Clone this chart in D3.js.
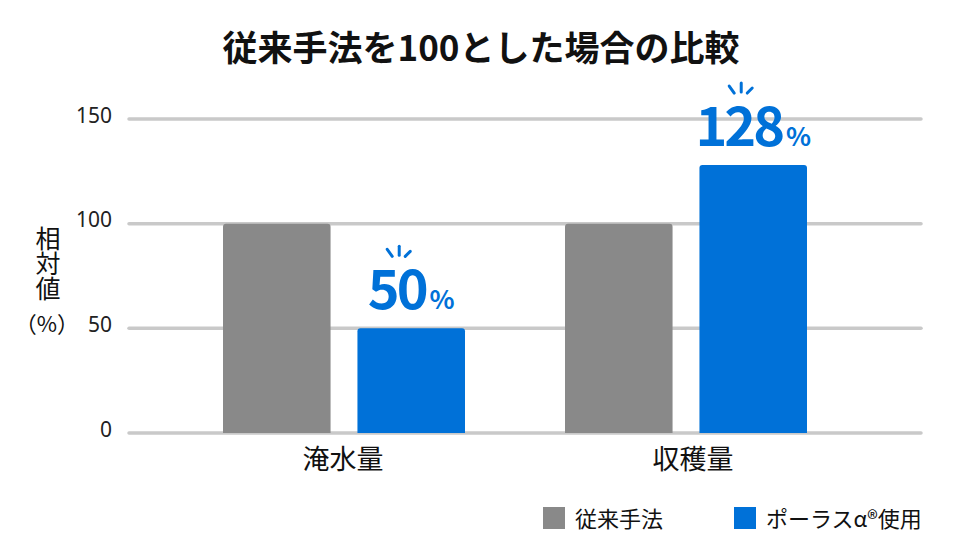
<!DOCTYPE html>
<html>
<head>
<meta charset="utf-8">
<script src="https://cdn.jsdelivr.net/npm/d3@7"></script>
<style>
  body { margin: 0; background: #fff; }
  svg { font-family: "Noto Sans CJK JP", "Noto Sans", sans-serif; }
</style>
</head>
<body>
<svg id="chart" width="960" height="550"></svg>
<script>
// data
const categories = ['淹水量', '収穫量']
const seriesNames = ['従来手法', 'ポーラスα®使用']
const conventional = [100, 100]
const porous = [50, 128]
const yTicks = [0, 50, 100, 150]
const title = '従来手法を100とした場合の比較'

const colors = ['#898989', '#0071d8']

const svg = d3.select('#chart')

const y = d3.scaleLinear()
    .domain([0, 150])
    .range([433, 119])

const x0 = d3.scaleBand()
    .domain(categories)
    .range([172, 856])
    .paddingInner(0)

const x1 = d3.scaleBand()
    .domain(seriesNames)
    .range([51, 293])
    .paddingInner(0.2)

// title
svg.append('text')
    .attr('x', 481)
    .attr('y', 61)
    .attr('text-anchor', 'middle')
    .style('font-size', '35px')
    .style('font-weight', 700)
    .style('fill', '#111')
    .text(title)

// gridlines
svg.append('g')
    .selectAll('line')
    .data(yTicks)
    .join('line')
    .attr('x1', 129)
    .attr('x2', 921)
    .attr('y1', d => y(d))
    .attr('y2', d => y(d))
    .style('stroke', '#c9c9c9')
    .style('stroke-width', 3.5)
    .style('stroke-linecap', 'round')

// y tick labels
svg.append('g')
    .selectAll('text')
    .data(yTicks)
    .join('text')
    .attr('x', 112)
    .attr('y', d => y(d) - 2)
    .attr('text-anchor', 'end')
    .attr('dominant-baseline', 'middle')
    .style('font-family', '"Noto Sans", sans-serif')
    .style('font-size', '21px')
    .style('fill', '#222')
    .text(d => d)

// y axis title, written vertically
svg.append('text')
    .attr('x', 48)
    .attr('y', 226)
    .style('writing-mode', 'vertical-rl')
    .style('font-size', '25px')
    .style('fill', '#111')
    .text('相対値')
svg.append('text')
    .attr('x', 47)
    .attr('y', 332)
    .attr('text-anchor', 'middle')
    .style('font-size', '22px')
    .style('fill', '#111')
    .text('（%）')

// bars with slightly rounded tops
function barPath(x, w, top, bottom, r) {
    return `M${x},${bottom} L${x},${top + r} Q${x},${top} ${x + r},${top}` +
        ` L${x + w - r},${top} Q${x + w},${top} ${x + w},${top + r} L${x + w},${bottom} Z`
}

const rows = categories.map((c, i) => ({ cat: c, values: [conventional[i], porous[i]] }))

const groups = svg.append('g')
    .selectAll('g')
    .data(rows)
    .join('g')
    .attr('transform', d => `translate(${x0(d.cat)},0)`)

groups.selectAll('path')
    .data(d => d.values.map((v, j) => ({ name: seriesNames[j], value: v, j })))
    .join('path')
    .attr('d', d => barPath(x1(d.name), x1.bandwidth(), y(d.value), y(0), 3))
    .style('fill', d => colors[d.j])

// category labels
groups.append('text')
    .attr('x', (d, i) => x0.bandwidth() / 2 + i * 8)
    .attr('y', 469)
    .attr('text-anchor', 'middle')
    .style('font-size', '27px')
    .style('fill', '#111')
    .text(d => d.cat)

// value labels on the porous series
const labels = groups.append('g')
    .attr('transform', d => `translate(${x1(seriesNames[1]) + x1.bandwidth() / 2},${y(d.values[1])})`)

const valText = labels.append('text')
    .attr('x', 0)
    .attr('y', -19)
    .attr('text-anchor', 'middle')
    .style('fill', colors[1])
    .style('font-weight', 700)
valText.append('tspan')
    .style('font-size', '54px')
    .style('letter-spacing', '-3px')
    .text(d => d.values[1])
valText.append('tspan')
    .attr('dx', 4)
    .style('font-size', '26px')
    .text('%')

// little spark strokes above the label
const sparks = [
    { x1: -12, y1: -79, x2: -7, y2: -72 },
    { x1: 0, y1: -82, x2: 0, y2: -73 },
    { x1: 11, y1: -77, x2: 6, y2: -72 }
]
labels.selectAll('line')
    .data(sparks)
    .join('line')
    .attr('x1', s => s.x1 - 12)
    .attr('y1', s => s.y1)
    .attr('x2', s => s.x2 - 12)
    .attr('y2', s => s.y2)
    .style('stroke', colors[1])
    .style('stroke-width', 3)
    .style('stroke-linecap', 'round')

// legend
const legendX = [543, 734]
const legend = svg.append('g')
    .selectAll('g')
    .data(seriesNames)
    .join('g')
    .attr('transform', (d, i) => `translate(${legendX[i]},507)`)
legend.append('rect')
    .attr('width', 22)
    .attr('height', 22)
    .style('fill', (d, i) => colors[i])
legend.append('text')
    .attr('x', 32)
    .attr('y', 20)
    .style('font-size', '22px')
    .style('fill', '#111')
    .text(d => d)
</script>
</body>
</html>
